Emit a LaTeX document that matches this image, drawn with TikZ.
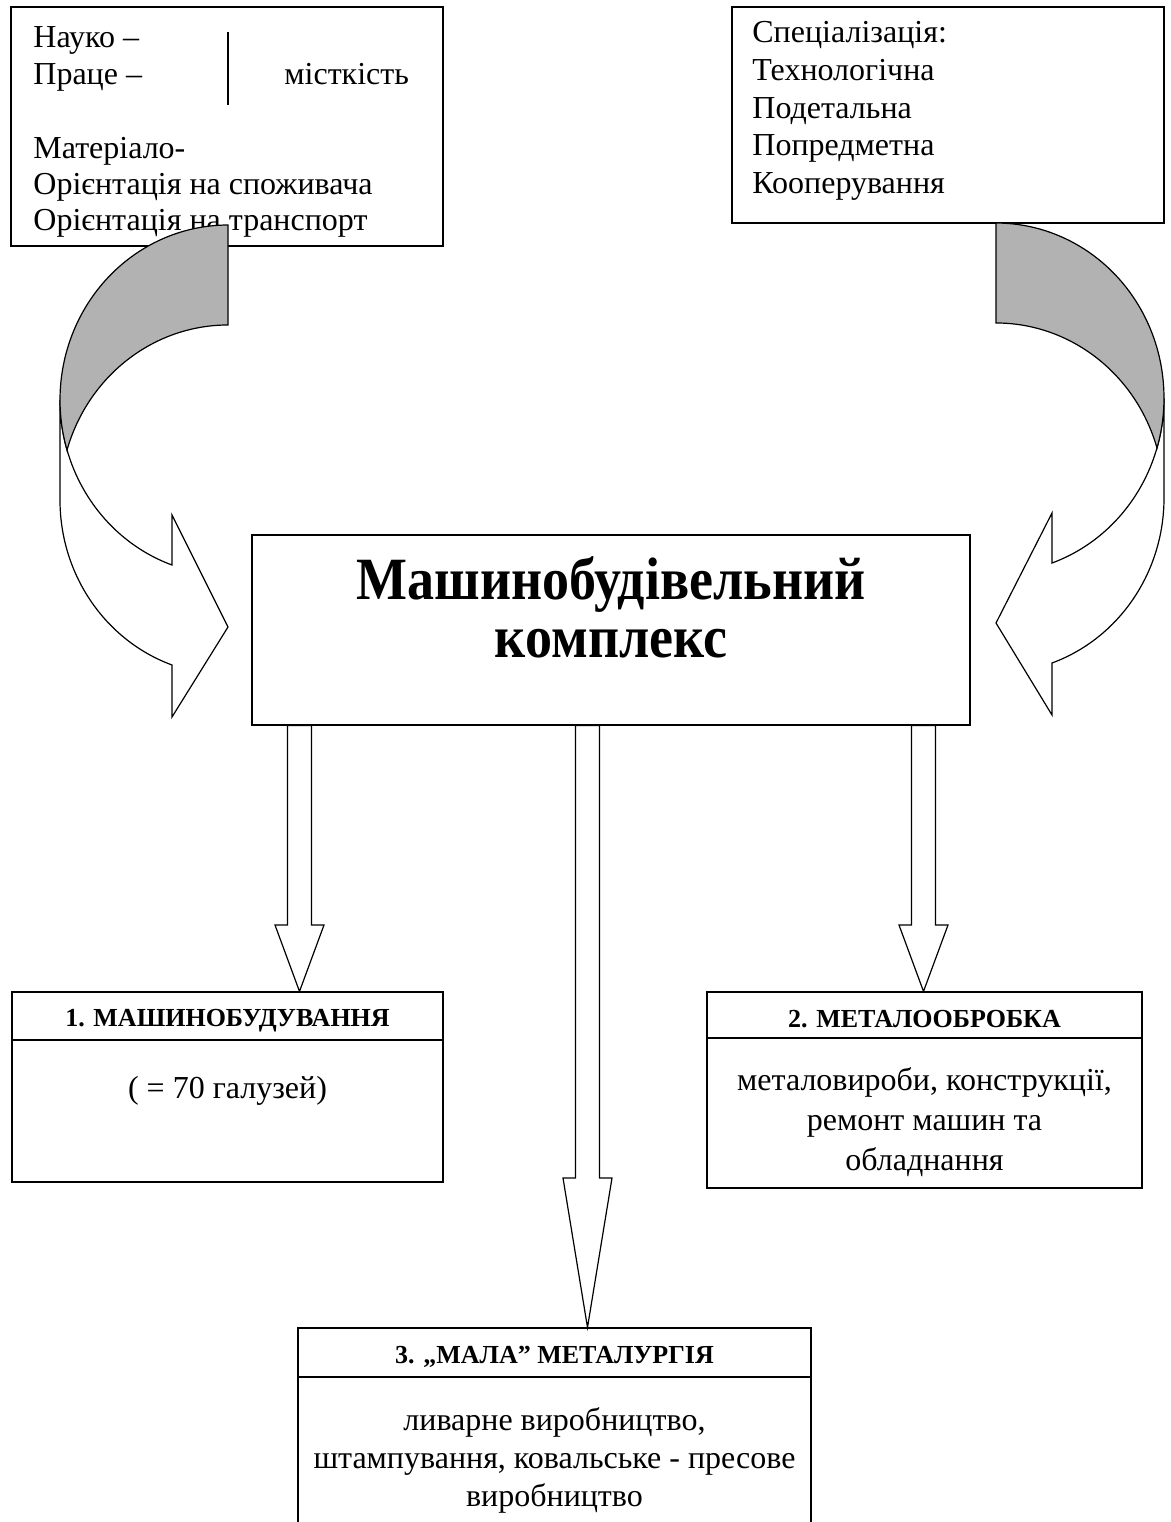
\documentclass[tikz,border=0pt]{standalone}
\usepackage{fontspec}
\usepackage{graphicx}
\setmainfont{Liberation Serif}
\usetikzlibrary{calc}

% block arrow pointing down: #1 from node, #2 to node, #3 x of axis, #4 y where the head starts
\newcommand{\blockdown}[4]{%
    \draw[front] ($(#1.south -| #3,0)+(-12,0)$) -- (#3-12,#4) -- (#3-24.5,#4)
        -- (#2.north -| #3,0) -- (#3+24.5,#4) -- (#3+12,#4)
        -- ($(#1.south -| #3,0)+(12,0)$) -- cycle;
}

\begin{document}
\begin{tikzpicture}[
    % GLOBAL CFG
    x=0.5pt, y=-0.5pt,
    % Styles
    box/.style={% For the frames
        rectangle,
        draw,
        line width=0.6pt,
        inner sep=0pt,
        },
    txt/.style={% Plain lines of text
        font=\fontsize{16}{19}\selectfont,
        inner sep=0pt,
        anchor=base west,
        },
    ctxt/.style={% Centred lines of text
        txt,
        anchor=base,
        },
    head/.style={% Bold box headings
        font=\bfseries\fontsize{13}{16}\selectfont,
        inner sep=0pt,
        anchor=base,
        },
    big/.style={% Main title
        font=\bfseries\fontsize{30}{32}\selectfont,
        inner sep=0pt,
        anchor=base,
        },
    back/.style={% Back face of the bent arrows
        draw,
        fill=gray!60,
        line width=0.6pt,
        },
    front/.style={% Front face of the arrows
        draw,
        fill=white,
        line width=0.6pt,
        },
    ]

    \clip (0,0) rectangle (1171,1522);

    % Top frames
    \node [box, minimum width=216pt, minimum height=119.5pt] (factors) at (227,126.5) {};
    \node [box, minimum width=216pt, minimum height=108pt] (special) at (948,115) {};

    % Text of the left frame
    \node [txt] (nauko) at (33,47) {Науко –};
    \node [txt] (prace) at (33,84) {Праце –};
    \node [txt] (mistk) at (284,84) {місткість};
    \node [txt] (mater) at (33,158) {Матеріало-};
    \node [txt] (spozh) at (33,194) {Орієнтація на споживача};
    \node [txt] (trans) at (33,230) {Орієнтація на транспорт};
    \draw [line width=0.6pt] (228,32) -- (228,105);

    % Text of the right frame
    \node [txt] (spec) at (752,42) {Спеціалізація:};
    \node [txt] (tekh) at (752,80) {Технологічна};
    \node [txt] (podet) at (752,118) {Подетальна};
    \node [txt] (popr) at (752,155) {Попредметна};
    \node [txt] (koop) at (752,193) {Кооперування};

    % Main frame
    \node [box, minimum width=359pt, minimum height=95pt] (mbk) at (611,630) {};
    \node [big] (title1) at (611,599) {\scalebox{0.9}[1]{Машинобудівельний}};
    \node [big] (title2) at (611,657) {\scalebox{0.9}[1]{комплекс}};

    % Branch frames
    \node [box, minimum width=215.5pt, minimum height=95pt] (mash) at (227.5,1087) {};
    \node [box, minimum width=217.5pt, minimum height=98pt] (metob) at (924.5,1090) {};
    \node [box, minimum width=256.5pt, minimum height=112pt] (metal) at (554.5,1440) {};

    \coordinate (h1) at (0,1040);
    \coordinate (h2) at (0,1038);
    \coordinate (h3) at (0,1377);
    \draw [line width=0.6pt] (mash.west |- h1) -- (mash.east |- h1);
    \draw [line width=0.6pt] (metob.west |- h2) -- (metob.east |- h2);
    \draw [line width=0.6pt] (metal.west |- h3) -- (metal.east |- h3);

    \node [head] (mashh) at (227.5,1026) {1. МАШИНОБУДУВАННЯ};
    \node [ctxt] (mashb) at (227.5,1098) {( = 70 галузей)};

    \node [head] (metobh) at (924.5,1027) {2. МЕТАЛООБРОБКА};
    \node [ctxt] (metob1) at (924.5,1090) {металовироби, конструкції,};
    \node [ctxt] (metob2) at (924.5,1130) {ремонт машин та};
    \node [ctxt] (metob3) at (924.5,1170) {обладнання};

    \node [head] (metalh) at (554.5,1363) {3. „МАЛА” МЕТАЛУРГІЯ};
    \node [ctxt] (metal1) at (554.5,1430) {ливарне виробництво,};
    \node [ctxt] (metal2) at (554.5,1468) {штампування, ковальське - пресове};
    \node [ctxt] (metal3) at (554.5,1506) {виробництво};

    % Bent arrows into the main frame
    \begin{scope}[shift={(228,400)}]
        \draw [front] (-56,165) arc[start angle=109.5, end angle=180, x radius=168, y radius=175]
            -- (-168,100) arc[start angle=180, end angle=109.5, x radius=168, y radius=175]
            -- (-56,317) -- (0,227) -- (-56,115) -- cycle;
        \draw [back] (0,-175) arc[start angle=270, end angle=163.4, x radius=168, y radius=175]
            arc[start angle=196.6, end angle=270, x radius=168, y radius=175] -- cycle;
    \end{scope}
    \begin{scope}[shift={(996,398)}, xscale=-1]
        \draw [front] (-56,165) arc[start angle=109.5, end angle=180, x radius=168, y radius=175]
            -- (-168,100) arc[start angle=180, end angle=109.5, x radius=168, y radius=175]
            -- (-56,317) -- (0,225) -- (-56,115) -- cycle;
        \draw [back] (0,-175) arc[start angle=270, end angle=163.4, x radius=168, y radius=175]
            arc[start angle=196.6, end angle=270, x radius=168, y radius=175] -- cycle;
    \end{scope}

    % Block arrows out of the main frame
    \blockdown{mbk}{mash}{299.5}{925}
    \blockdown{mbk}{metal}{587.5}{1178}
    \blockdown{mbk}{metob}{923.5}{925}
\end{tikzpicture}
\end{document}
